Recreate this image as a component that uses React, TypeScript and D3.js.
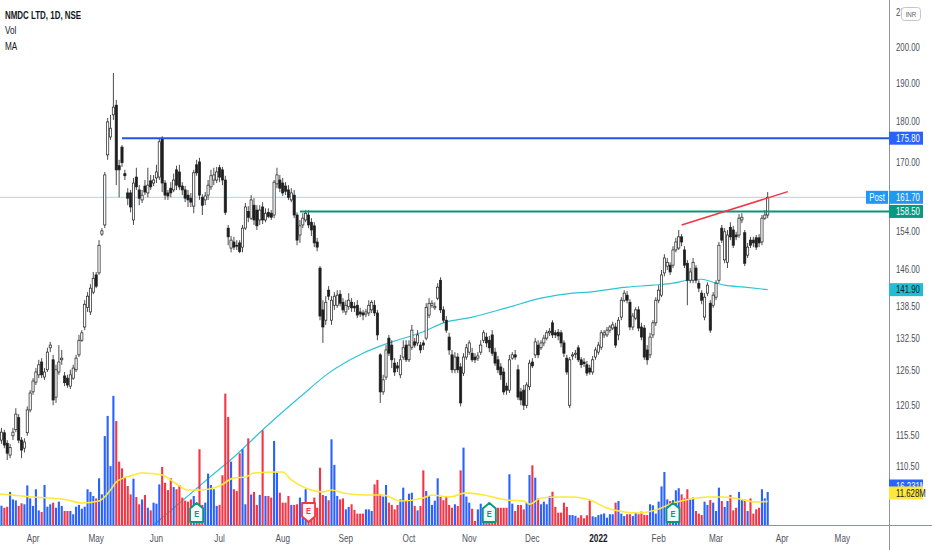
import React from 'react'
import * as d3 from 'd3'

const symbolTitle = 'NMDC LTD, 1D, NSE'
const legendRows = ['Vol', 'MA']
const firstDate = new Date(2021, 2, 16)
const futureBars = 45
const monthNames = ['Jan', 'Feb', 'Mar', 'Apr', 'May', 'Jun', 'Jul', 'Aug', 'Sep', 'Oct', 'Nov', 'Dec']
const priceTicks = [210, 200, 190, 180, 170, 154, 146, 138.5, 132.5, 126.5, 120.5, 115.5, 110.5]

// daily candles [open, high, low, close]
const candles: number[][] = [
	[116.4, 117.2, 113.7, 114.4], [114.7, 116.7, 114.1, 116.0], [115.9, 116.4, 113.4, 113.9], [114.2, 114.7, 111.5, 112.6], [112.3, 114.1, 111.8, 113.5],
	[115.4, 116.7, 114.7, 116.0], [116.4, 120.0, 116.0, 119.0], [118.4, 119.0, 114.2, 114.7], [114.7, 115.2, 111.8, 113.1], [113.4, 115.0, 112.7, 114.4],
	[115.9, 120.3, 115.4, 119.7], [119.7, 123.1, 119.3, 122.6], [122.8, 125.2, 122.3, 124.7], [124.5, 127.0, 124.0, 126.3], [125.8, 128.5, 125.2, 127.6],
	[128.1, 128.8, 125.2, 125.8], [125.4, 127.0, 124.9, 126.3], [126.7, 130.7, 126.3, 129.9], [130.7, 131.8, 129.9, 131.2], [128.5, 129.4, 120.5, 121.4],
	[121.9, 127.6, 120.9, 126.7], [126.3, 131.2, 125.8, 128.1], [128.5, 130.3, 127.6, 128.8], [125.6, 126.3, 123.8, 124.4], [125.2, 125.8, 123.5, 124.0],
	[123.8, 126.7, 123.3, 125.8], [125.2, 127.6, 124.9, 127.0], [126.7, 129.4, 126.3, 128.8], [129.4, 133.1, 129.0, 132.1], [132.1, 134.0, 131.8, 133.5],
	[134.6, 139.8, 134.0, 139.0], [138.4, 141.4, 137.5, 140.6], [137.5, 143.0, 136.9, 142.2], [141.4, 145.5, 141.0, 144.2], [144.9, 145.5, 142.2, 142.6],
	[145.3, 152.2, 144.9, 151.1], [153.5, 154.8, 153.1, 154.2], [155.5, 167.6, 154.8, 166.9], [171.7, 180.9, 170.5, 179.9], [176.1, 181.7, 175.4, 178.3],
	[181.7, 192.8, 180.4, 183.7], [184.2, 185.6, 164.5, 168.1], [169.1, 170.5, 161.7, 168.1], [173.6, 174.1, 168.8, 169.8], [167.2, 168.1, 165.7, 166.7],
	[162.7, 163.8, 159.9, 161.5], [162.7, 163.4, 158.3, 159.5], [156.6, 166.2, 155.5, 165.0], [166.4, 168.6, 163.4, 164.1], [163.4, 164.5, 159.9, 161.5],
	[161.1, 163.4, 160.4, 162.2], [164.3, 165.7, 162.2, 162.9], [162.7, 168.6, 161.7, 164.5], [165.5, 166.9, 163.4, 164.1], [165.0, 166.9, 164.3, 165.7],
	[166.2, 169.3, 165.0, 167.6], [166.4, 175.8, 165.7, 174.9], [175.8, 176.3, 162.9, 165.0], [165.0, 165.7, 161.1, 162.2], [162.7, 163.4, 161.1, 162.0],
	[163.8, 165.2, 161.7, 162.7], [163.4, 167.2, 162.9, 165.7], [168.1, 169.1, 163.4, 164.5], [167.6, 169.3, 163.4, 164.1], [164.3, 165.2, 162.2, 163.4],
	[163.4, 164.3, 160.6, 161.5], [162.2, 163.4, 159.5, 161.1], [161.5, 162.7, 159.5, 160.6], [159.7, 168.1, 158.1, 167.4], [169.3, 170.5, 166.7, 167.4],
	[170.0, 171.0, 161.1, 162.2], [161.7, 162.4, 157.7, 159.9], [161.1, 162.9, 159.9, 162.0], [162.2, 165.7, 161.1, 164.5], [164.1, 168.1, 163.4, 166.7],
	[165.7, 168.6, 164.5, 166.9], [165.7, 168.8, 165.0, 167.6], [168.6, 169.3, 165.2, 166.4], [168.1, 168.8, 164.5, 165.7], [165.7, 166.7, 157.7, 158.3],
	[154.8, 155.5, 151.1, 152.9], [150.5, 153.1, 149.6, 152.2], [151.8, 152.9, 150.1, 150.7], [151.1, 152.2, 150.1, 150.9], [151.6, 152.2, 149.4, 149.8],
	[150.7, 155.5, 149.6, 154.8], [154.8, 160.4, 154.4, 159.5], [158.5, 159.7, 156.1, 157.2], [157.0, 162.2, 156.6, 161.1], [159.9, 161.5, 155.5, 156.6],
	[158.8, 159.9, 154.4, 155.3], [156.6, 159.9, 155.5, 158.8], [159.5, 160.6, 155.7, 156.6], [156.6, 159.2, 156.1, 158.1], [158.3, 159.2, 157.0, 157.4],
	[158.1, 158.8, 156.6, 157.2], [157.7, 165.7, 157.0, 165.2], [164.8, 168.6, 163.8, 166.9], [165.7, 166.9, 162.9, 163.8], [165.0, 166.2, 162.0, 162.7],
	[164.3, 165.2, 162.2, 163.1], [163.4, 164.5, 161.1, 161.7], [161.1, 163.8, 160.6, 162.7], [162.2, 163.4, 157.0, 157.7], [157.7, 158.3, 151.1, 152.2],
	[153.3, 156.6, 151.6, 155.3], [155.5, 158.1, 154.8, 157.0], [156.6, 158.8, 156.1, 158.1], [157.7, 158.8, 154.8, 155.5], [156.1, 157.0, 153.1, 154.4],
	[155.3, 156.1, 150.7, 151.6], [151.8, 152.7, 149.8, 150.7], [146.3, 146.7, 135.9, 136.7], [137.9, 139.8, 131.6, 134.6], [135.9, 140.6, 135.0, 139.4],
	[141.8, 142.6, 139.8, 140.6], [135.9, 140.6, 135.0, 139.8], [138.8, 141.4, 137.9, 140.6], [138.8, 141.8, 138.3, 140.8], [141.0, 141.8, 138.6, 139.2],
	[139.4, 140.2, 137.3, 137.9], [137.5, 139.8, 136.9, 138.8], [138.6, 141.2, 137.9, 139.8], [139.4, 140.2, 137.5, 138.3], [138.6, 139.4, 137.5, 138.3],
	[138.8, 139.8, 136.3, 136.9], [137.5, 138.3, 136.5, 137.1], [137.3, 137.9, 135.9, 136.9], [137.1, 138.1, 136.5, 137.5], [137.3, 139.8, 136.7, 138.8],
	[137.9, 139.8, 137.3, 139.4], [138.8, 139.8, 136.7, 137.3], [137.3, 137.9, 132.1, 133.1], [129.4, 129.7, 120.9, 122.8], [122.8, 125.8, 122.3, 124.9],
	[125.4, 131.2, 124.9, 130.3], [132.5, 133.1, 129.2, 129.7], [131.2, 132.1, 127.0, 128.5], [127.9, 128.8, 125.6, 126.3], [127.4, 128.1, 126.3, 127.0],
	[125.8, 129.4, 125.2, 128.5], [129.0, 132.1, 128.5, 130.7], [131.2, 132.1, 128.1, 128.5], [128.5, 132.1, 128.1, 131.2], [130.8, 135.0, 130.3, 134.0],
	[131.8, 132.5, 130.7, 131.2], [131.6, 134.0, 131.0, 133.1], [131.2, 131.8, 129.7, 130.3], [131.6, 132.1, 130.3, 131.2], [132.5, 139.2, 132.1, 138.4],
	[136.9, 140.2, 136.3, 139.2], [138.8, 139.8, 138.3, 139.2], [138.3, 139.4, 137.9, 138.6], [140.2, 143.2, 139.8, 142.4], [143.8, 144.4, 137.3, 137.9],
	[137.9, 138.6, 135.4, 135.9], [135.9, 136.7, 133.5, 134.0], [132.7, 133.5, 129.4, 130.3], [129.4, 130.3, 126.1, 126.7], [126.7, 129.9, 126.1, 129.0],
	[129.0, 129.7, 126.1, 126.7], [127.2, 127.9, 120.3, 120.9], [126.1, 129.7, 125.6, 129.0], [129.0, 131.4, 128.5, 130.7], [129.9, 132.1, 129.4, 131.6],
	[129.7, 130.7, 128.1, 128.5], [129.0, 129.7, 127.9, 128.5], [128.8, 129.9, 128.3, 129.2], [129.9, 132.1, 129.4, 131.2], [132.1, 134.0, 131.6, 133.5],
	[132.7, 133.5, 130.8, 131.6], [132.1, 132.9, 129.9, 130.7], [133.1, 134.0, 129.2, 129.7], [129.9, 130.7, 127.4, 127.9], [128.5, 129.2, 126.1, 126.7],
	[127.2, 127.9, 124.9, 125.8], [126.3, 127.0, 122.3, 122.8], [123.8, 124.4, 122.3, 123.1], [123.1, 129.4, 122.6, 128.5], [128.8, 129.9, 128.5, 129.4],
	[129.4, 130.3, 128.5, 129.0], [126.7, 127.6, 121.4, 121.9], [122.8, 123.5, 120.5, 121.4], [123.1, 124.0, 119.7, 120.5], [120.5, 124.5, 120.0, 124.0],
	[123.7, 128.5, 123.1, 127.9], [128.1, 128.8, 127.0, 127.4], [129.4, 132.5, 128.8, 131.8], [131.2, 132.1, 128.8, 129.4], [130.7, 132.1, 130.3, 131.6],
	[131.6, 133.1, 131.0, 132.5], [132.5, 134.0, 132.1, 133.5], [133.5, 134.4, 132.9, 133.8], [135.4, 135.9, 132.5, 133.1], [133.5, 134.0, 132.5, 133.1],
	[133.6, 134.2, 132.1, 132.9], [133.5, 134.0, 130.8, 131.6], [131.6, 132.1, 129.0, 129.7], [128.8, 129.4, 125.8, 126.3], [120.5, 129.0, 120.0, 128.5],
	[129.2, 129.9, 128.5, 129.4], [129.5, 130.3, 128.8, 129.7], [130.7, 131.2, 128.1, 128.5], [128.5, 129.0, 127.0, 127.6], [128.1, 128.8, 127.2, 127.8],
	[127.6, 128.3, 125.6, 126.1], [127.0, 127.6, 125.8, 126.3], [126.3, 129.2, 125.8, 128.5], [129.0, 130.8, 128.5, 130.3], [129.9, 131.8, 129.4, 131.2],
	[130.8, 134.0, 130.3, 133.5], [133.1, 134.0, 132.5, 133.5], [133.1, 134.6, 132.7, 134.0], [134.0, 135.0, 133.5, 134.6], [134.4, 135.6, 134.0, 135.0],
	[134.6, 135.4, 130.7, 131.2], [133.1, 136.5, 132.1, 135.9], [136.5, 140.4, 135.9, 139.8], [139.8, 141.8, 139.4, 141.2], [140.8, 141.6, 139.2, 139.8],
	[139.4, 140.0, 134.0, 134.6], [134.6, 137.3, 134.0, 136.7], [136.3, 138.4, 135.9, 137.9], [137.9, 138.6, 133.8, 134.4], [134.6, 135.4, 132.1, 132.7],
	[134.4, 135.0, 128.5, 129.0], [130.3, 131.2, 127.6, 128.5], [129.4, 133.5, 128.8, 132.7], [133.1, 135.9, 132.5, 135.4], [135.4, 140.4, 134.8, 139.8],
	[139.8, 142.8, 139.2, 141.8], [140.8, 145.9, 140.4, 144.9], [145.3, 149.2, 144.6, 148.4], [146.7, 148.4, 145.9, 147.5], [146.9, 147.5, 144.9, 145.5],
	[146.9, 150.9, 146.3, 150.1], [150.1, 152.7, 149.6, 151.8], [150.5, 154.4, 150.1, 152.9], [152.9, 153.5, 150.9, 151.8], [150.1, 150.9, 146.3, 146.9],
	[147.3, 148.0, 138.8, 143.8], [143.8, 146.3, 143.2, 145.5], [143.8, 148.4, 143.2, 147.5], [146.3, 146.9, 143.2, 143.8], [143.2, 143.8, 141.4, 142.2],
	[141.2, 141.8, 139.0, 139.8], [136.5, 141.2, 135.9, 140.4], [141.2, 143.4, 140.6, 142.8], [139.2, 139.8, 133.5, 134.0], [138.8, 141.4, 138.3, 140.8],
	[140.4, 143.8, 139.8, 143.2], [143.8, 151.8, 143.2, 151.1], [154.8, 155.5, 151.6, 152.2], [148.0, 154.8, 147.3, 154.0], [147.5, 154.4, 146.3, 153.3],
	[155.0, 156.1, 152.2, 152.9], [154.4, 155.3, 150.5, 151.1], [153.3, 154.0, 152.2, 152.9], [153.3, 157.9, 152.7, 157.0], [156.6, 158.1, 155.9, 157.2],
	[153.8, 154.4, 146.7, 147.3], [149.0, 151.6, 148.4, 150.7], [152.2, 152.9, 150.5, 151.1], [152.2, 152.9, 150.7, 151.6], [152.7, 153.3, 150.1, 150.7],
	[152.7, 153.5, 150.7, 151.6], [151.8, 157.7, 151.1, 157.0], [157.0, 158.8, 156.6, 157.7], [157.7, 162.9, 157.0, 161.7]
]

// volume, millions
const volumes = [
	8.9, 9.5, 8.5, 9.0, 16.3, 12.6, 12.1, 9.4, 10.7, 10.2,
	19.5, 13.1, 9.4, 17.6, 7.2, 6.4, 19.7, 9.0, 10.2, 11.0,
	8.5, 11.5, 9.4, 6.9, 6.9, 6.9, 5.3, 9.0, 9.9, 8.0,
	9.0, 17.6, 16.3, 14.3, 13.1, 23.0, 15.1, 43.8, 53.7, 29.0,
	63.6, 51.2, 31.2, 27.9, 23.3, 19.2, 15.1, 22.8, 13.8, 10.2,
	12.6, 14.8, 8.5, 7.2, 11.0, 10.5, 20.0, 28.6, 20.8, 17.2,
	23.0, 18.7, 17.6, 19.7, 13.5, 12.0, 11.5, 12.6, 14.3, 10.0,
	37.3, 9.9, 11.0, 25.3, 19.7, 17.6, 9.4, 9.9, 24.5, 64.7,
	53.2, 31.2, 17.6, 16.7, 35.3, 37.3, 10.2, 42.7, 15.0, 16.3,
	9.9, 14.8, 46.6, 14.3, 14.3, 13.5, 41.4, 25.8, 15.9, 11.0,
	11.0, 14.3, 9.9, 9.9, 10.2, 13.5, 8.0, 17.6, 10.0, 9.4,
	13.5, 8.5, 28.2, 14.8, 14.3, 12.2, 42.2, 29.6, 14.3, 12.6,
	13.1, 7.7, 8.9, 10.2, 7.4, 5.6, 5.6, 5.6, 7.7, 7.7,
	6.9, 20.0, 22.2, 15.1, 14.0, 19.7, 11.0, 9.9, 7.7, 9.9,
	12.6, 18.4, 11.8, 15.4, 15.9, 9.4, 7.2, 9.4, 26.9, 16.7,
	14.3, 9.9, 12.0, 23.0, 13.8, 12.2, 14.3, 9.9, 8.5, 10.2,
	9.4, 26.9, 38.1, 14.0, 11.0, 8.0, 2.0, 7.7, 10.5, 8.5,
	8.0, 11.0, 9.0, 5.6, 8.5, 8.5, 8.5, 8.5, 25.0, 10.5,
	6.9, 9.9, 9.9, 7.7, 11.0, 24.6, 29.4, 23.3, 13.1, 10.2,
	11.5, 10.2, 14.3, 16.4, 8.9, 6.1, 6.1, 11.0, 8.9, 4.9,
	4.9, 4.5, 3.6, 4.8, 3.3, 4.8, 12.2, 4.3, 3.9, 4.9,
	5.3, 5.7, 3.6, 5.3, 5.3, 11.0, 11.8, 5.6, 4.4, 5.3,
	5.3, 4.4, 6.1, 5.3, 6.6, 5.0, 4.9, 10.2, 9.7, 5.6,
	11.5, 19.0, 26.1, 12.6, 11.8, 12.2, 17.1, 18.1, 15.1, 13.1,
	17.6, 12.6, 13.5, 6.9, 5.6, 4.9, 11.5, 9.9, 12.3, 11.0,
	6.9, 18.4, 11.8, 8.9, 11.8, 14.8, 7.2, 8.5, 16.3, 12.6,
	12.6, 6.9, 13.1, 5.6, 7.7, 8.5, 17.6, 13.1, 16.231
]

// moving average of price, read at [bar, value]
const priceMa = [
	[0, 88.0], [20, 92.0], [40, 97.0], [56, 102.4], [66, 106.0], [74, 109.0], [82, 112.0], [93, 116.8],
	[105, 121.9], [115, 126.1], [127, 129.7], [136, 131.6], [148, 133.7], [155, 135.4], [165, 136.5],
	[177, 138.3], [189, 140.2], [200, 141.2], [206, 141.4], [211, 141.8], [219, 142.4], [228, 142.8],
	[235, 143.2], [240, 143.8], [245, 144.0], [249, 143.4], [253, 142.8], [260, 142.4], [268, 141.9]
]

// moving average of volume (millions), read at [bar, value]
const volumeMa = [
	[0, 15.3], [12, 13.8], [24, 12.3], [29, 10.8], [35, 11.8], [39, 17.2], [41, 21.2], [47, 24.6],
	[50, 25.6], [57, 24.6], [61, 21.2], [66, 17.2], [70, 17.2], [77, 19.2], [82, 23.2], [86, 23.6],
	[89, 25.6], [97, 26.1], [99, 26.1], [102, 22.2], [107, 18.2], [113, 16.3], [116, 17.2], [120, 15.8],
	[128, 14.8], [134, 14.8], [140, 11.8], [148, 13.3], [151, 14.8], [157, 13.8], [163, 15.8], [169, 14.8],
	[177, 12.3], [183, 11.8], [185, 10.3], [189, 13.3], [195, 13.8], [200, 13.8], [206, 12.3], [212, 8.4],
	[218, 6.4], [223, 5.9], [229, 7.4], [235, 10.8], [241, 12.8], [247, 13.8], [252, 13.8], [258, 12.8],
	[264, 11.3], [268, 11.628]
]

const resistance = { price: 175.8, from: '2021-05-14' }
const support = { price: 158.5, from: '2021-08-10' }
const trendline = [
	{ date: '2022-02-11', price: 155.5 },
	{ date: '2022-04-05', price: 163.0 }
]
const earnings = [
	{ date: '2021-06-21', beat: true },
	{ date: '2021-08-13', beat: false },
	{ date: '2021-11-10', beat: true },
	{ date: '2022-02-08', beat: true }
]

const width = 932
const height = 550
const paneRight = 889
const paneBottom = 525
const font = "'Liberation Sans', Arial, sans-serif"
// squeeze glyphs to imitate the narrow platform font
const narrow = 0.78

const upColor = '#2962ff'
const downColor = '#f23645'

const dates: Date[] = []
for (let d = new Date(firstDate); dates.length < candles.length + futureBars; d.setDate(d.getDate() + 1)) {
	if (d.getDay() % 6 !== 0) dates.push(new Date(d))
}
const fmt = d3.timeFormat('%Y-%m-%d')
const barOf = (s: string) => dates.findIndex(d => fmt(d) === s)

const x = d3.scaleLinear().domain([0, candles.length - 1]).range([-1.4, 767.7])
const y = d3.scaleLog().domain([200, 110.5]).range([47, 466.5])
const yVol = d3.scaleLinear().domain([0, 65]).range([paneBottom, paneBottom - 132])

interface TxtProps {
	x: number
	y: number
	size?: number
	anchor?: string
	weight?: string
	fill?: string
	children: React.ReactNode
}

const Txt = ({ x, y, size = 10, anchor = 'start', weight = 'normal', fill = '#4a4e59', children }: TxtProps) => (
	<text
		transform={`translate(${x},${y}) scale(${narrow},1)`}
		textAnchor={anchor}
		fontSize={size}
		fontWeight={weight}
		fill={fill}
	>
		{children}
	</text>
)

const Tag = ({ yc, text, bg, fg }: { yc: number; text: string; bg: string; fg: string }) => (
	<g>
		<rect x={paneRight} y={yc - 6.5} width={34} height={13} fill={bg} />
		<Txt x={paneRight + 7} y={yc + 3.6} fill={fg}>
			{text}
		</Txt>
	</g>
)

const App = () => {
	const maPath = d3
		.line<number[]>()
		.x(d => x(d[0]))
		.y(d => y(d[1]))
		.curve(d3.curveMonotoneX)(priceMa)
	const volMaPath = d3
		.line<number[]>()
		.x(d => x(d[0]))
		.y(d => yVol(d[1]))
		.curve(d3.curveMonotoneX)(volumeMa)

	const monthTicks = dates
		.map((d, i) => ({ d, i }))
		.filter(({ d, i }) => i > 0 && d.getMonth() !== dates[i - 1].getMonth() && x(i) < paneRight - 12)

	const last = candles[candles.length - 1]
	const lastClose = last[3]
	const lastVol = volumes[volumes.length - 1]
	const lastVolMa = volumeMa[volumeMa.length - 1][1]
	const lastMa = priceMa[priceMa.length - 1][1]

	// axis tags are pushed up to stay clear of the pane edge
	const volMaTagY = Math.min(yVol(lastVolMa), paneBottom - 32)
	const volTagY = Math.min(yVol(lastVol), volMaTagY - 7)

	const t1 = trendline[0]
	const t2 = trendline[1]

	return (
		<>
			<style>{'body{margin:0}'}</style>
			<svg width={width} height={height} style={{ display: 'block', background: '#fff', fontFamily: font }}>
				<defs>
					<clipPath id='pane'>
						<rect x={0} y={0} width={paneRight} height={paneBottom} />
					</clipPath>
				</defs>
				<rect width={width} height={height} fill='#fff' />

				<g clipPath='url(#pane)'>
					{/* price MA sits under the volume columns */}
					<path d={maPath || ''} fill='none' stroke='#2ec4d6' strokeWidth={1.2} />

					{/* volume */}
					{volumes.map((v, i) => {
						const [o, , , c] = candles[i]
						return (
							<rect
								key={'v' + i}
								x={x(i) - 1.05}
								y={yVol(v)}
								width={2.1}
								height={paneBottom - yVol(v)}
								fill={c >= o ? upColor : downColor}
							/>
						)
					})}
					<path d={volMaPath || ''} fill='none' stroke='#ffe83b' strokeWidth={1.6} />

					{/* last price line */}
					<line x1={0} x2={paneRight} y1={y(lastClose)} y2={y(lastClose)} stroke='#a8d3f7' strokeWidth={1} />

					{/* candles */}
					{candles.map(([o, h, l, c], i) => {
						const cx = x(i)
						const top = y(Math.max(o, c))
						const bottom = y(Math.min(o, c))
						const up = c >= o
						return (
							<g key={'c' + i}>
								<line x1={cx} x2={cx} y1={y(h)} y2={y(l)} stroke='#1e1e1e' strokeWidth={0.8} />
								<rect
									x={cx - 1.1}
									y={top}
									width={2.2}
									height={Math.max(bottom - top, 0.8)}
									fill={up ? '#ffffff' : '#1e1e1e'}
									stroke='#1e1e1e'
									strokeWidth={0.7}
								/>
							</g>
						)
					})}

					{/* drawn levels */}
					<line
						x1={x(barOf(resistance.from))}
						x2={paneRight}
						y1={y(resistance.price)}
						y2={y(resistance.price)}
						stroke='#2255e0'
						strokeWidth={2}
					/>
					<line
						x1={x(barOf(support.from))}
						x2={paneRight}
						y1={y(support.price)}
						y2={y(support.price)}
						stroke='#0a9379'
						strokeWidth={2}
					/>
					<line
						x1={x(barOf(t1.date))}
						y1={y(t1.price)}
						x2={x(barOf(t2.date))}
						y2={y(t2.price)}
						stroke='#f23645'
						strokeWidth={1.5}
					/>

					{/* earnings badges */}
					{earnings.map(e => {
						const cx = x(barOf(e.date))
						const top = 503
						const bottom = 522
						const col = e.beat ? '#089981' : '#f23645'
						const shape = e.beat
							? `M${cx},${top} L${cx + 6.5},${top + 5.5} L${cx + 6.5},${bottom} L${cx - 6.5},${bottom} L${cx - 6.5},${top + 5.5} Z`
							: `M${cx - 6.5},${top} L${cx + 6.5},${top} L${cx + 6.5},${bottom - 5.5} L${cx},${bottom} L${cx - 6.5},${bottom - 5.5} Z`
						return (
							<g key={e.date}>
								<path
									d={shape}
									fill={e.beat ? '#f2fbf8' : '#fff5f6'}
									stroke={col}
									strokeWidth={1.8}
									strokeLinejoin='round'
								/>
								<Txt x={cx} y={e.beat ? 517 : 513.5} anchor='middle' size={9.5} weight='bold' fill={col}>
									E
								</Txt>
							</g>
						)
					})}
				</g>

				{/* axes frame */}
				<line x1={paneRight + 0.5} x2={paneRight + 0.5} y1={0} y2={height} stroke='#8f939c' strokeWidth={1} />
				<line x1={0} x2={width} y1={paneBottom + 0.5} y2={paneBottom + 0.5} stroke='#8f939c' strokeWidth={1} />

				{/* price axis ticks */}
				{priceTicks.map(t => (
					<Txt key={t} x={paneRight + 7} y={y(t) + 3.6}>
						{t.toFixed(2)}
					</Txt>
				))}
				<rect x={901.5} y={7.5} width={19} height={13} rx={3} fill='#fff' stroke='#c3c6ce' />
				<Txt x={911} y={16.8} anchor='middle' size={8} fill='#5d606b'>
					INR
				</Txt>

				{/* price tags */}
				<Tag yc={y(resistance.price)} text={resistance.price.toFixed(2)} bg='#2962ff' fg='#fff' />
				<rect x={866} y={y(lastClose) - 6.5} width={22} height={13} fill='#2196f3' />
				<Txt x={877} y={y(lastClose) + 3.6} anchor='middle' fill='#fff'>
					Post
				</Txt>
				<Tag yc={y(lastClose)} text={lastClose.toFixed(2)} bg='#2196f3' fg='#fff' />
				<Tag yc={y(support.price)} text={support.price.toFixed(2)} bg='#089981' fg='#fff' />
				<Tag yc={y(lastMa)} text={lastMa.toFixed(2)} bg='#22bcd3' fg='#131722' />
				<Tag yc={volTagY} text={lastVol.toFixed(3) + 'M'} bg='#2962ff' fg='#fff' />
				<Tag yc={volMaTagY} text={lastVolMa.toFixed(3) + 'M'} bg='#ffe83b' fg='#131722' />

				{/* time axis */}
				{monthTicks.map(({ d, i }) => {
					const isYear = d.getMonth() === 0
					return (
						<Txt
							key={i}
							x={x(i)}
							y={542}
							anchor='middle'
							size={10.5}
							weight={isYear ? 'bold' : 'normal'}
							fill={isYear ? '#131722' : '#50535e'}
						>
							{isYear ? d.getFullYear() : monthNames[d.getMonth()]}
						</Txt>
					)
				})}

				{/* legend */}
				<Txt x={5} y={18.5} size={10.2} weight='bold' fill='#131722'>
					{symbolTitle}
				</Txt>
				{legendRows.map((r, k) => (
					<Txt key={r} x={5} y={34 + k * 15.5} size={10.5} fill='#131722'>
						{r}
					</Txt>
				))}
			</svg>
		</>
	)
}

export default App
